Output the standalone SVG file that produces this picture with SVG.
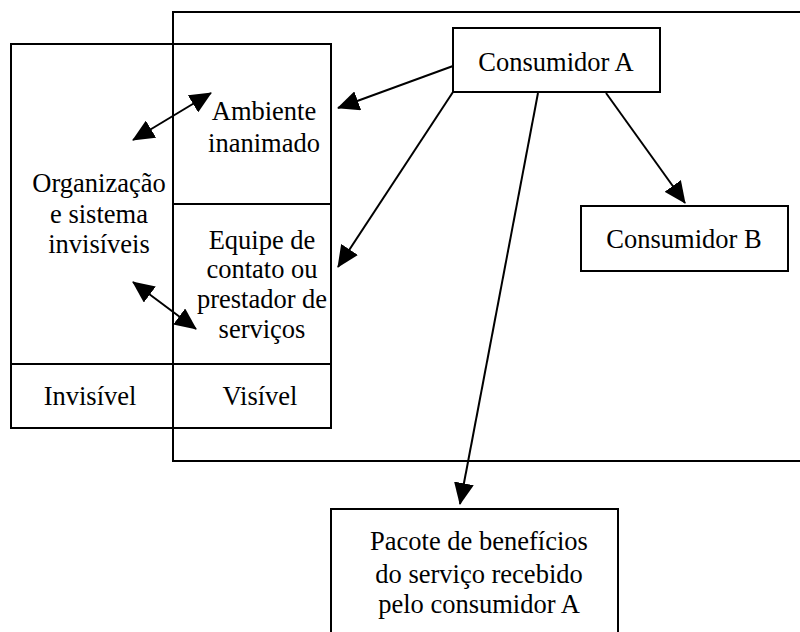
<svg xmlns="http://www.w3.org/2000/svg" width="800" height="632" viewBox="0 0 800 632">
<style>
.box{fill:none;stroke:#000;stroke-width:2}
.ln{fill:none;stroke:#000;stroke-width:2}
.t{font-family:"Liberation Serif","Times New Roman",serif;font-size:26.5px;fill:#000;text-anchor:middle}
</style>
<defs>
<marker id="ah" viewBox="0 0 22 20" refX="21" refY="10" markerWidth="22" markerHeight="20" markerUnits="userSpaceOnUse" orient="auto-start-reverse">
<path d="M0,0 L22,10 L0,20 Z" fill="#000"/>
</marker>
</defs>
<rect width="800" height="632" fill="#fff"/>
<g id="outer">
<rect class="box" x="173" y="12" width="640" height="449"/>
</g>
<g id="left-panel">
<rect class="box" x="11" y="44" width="320" height="384"/>
<line class="ln" x1="173" y1="204" x2="331" y2="204"/>
<line class="ln" x1="11" y1="364" x2="331" y2="364"/>
</g>
<g id="organizacao">
<text class="t" x="99" y="192">Organização</text>
<text class="t" x="99" y="223">e sistema</text>
<text class="t" x="99" y="253">invisíveis</text>
</g>
<g id="ambiente">
<text class="t" x="264" y="120">Ambiente</text>
<text class="t" x="264" y="152">inanimado</text>
</g>
<g id="equipe">
<text class="t" x="262" y="249">Equipe de</text>
<text class="t" x="262" y="278">contato ou</text>
<text class="t" x="262" y="308">prestador de</text>
<text class="t" x="262" y="338">serviços</text>
</g>
<g id="invisivel">
<text class="t" x="90" y="405">Invisível</text>
</g>
<g id="visivel">
<text class="t" x="260" y="405">Visível</text>
</g>
<g id="consumidor-a">
<rect class="box" x="453" y="28" width="207" height="64"/>
<text class="t" x="556" y="71">Consumidor A</text>
</g>
<g id="consumidor-b">
<rect class="box" x="581" y="206" width="207" height="65"/>
<text class="t" x="684" y="248">Consumidor B</text>
</g>
<g id="pacote">
<rect class="box" x="331" y="509" width="287" height="140"/>
<text class="t" x="479" y="550">Pacote de benefícios</text>
<text class="t" x="479" y="583">do serviço recebido</text>
<text class="t" x="479" y="613">pelo consumidor A</text>
</g>
<g id="connectors">
<line class="ln" x1="453" y1="66" x2="338" y2="108" marker-end="url(#ah)"/>
<line class="ln" x1="453" y1="92" x2="338" y2="267" marker-end="url(#ah)"/>
<line class="ln" x1="538" y1="93" x2="460" y2="504" marker-end="url(#ah)"/>
<line class="ln" x1="606" y1="93" x2="685" y2="203" marker-end="url(#ah)"/>
<line class="ln" x1="133" y1="140" x2="211" y2="93" marker-start="url(#ah)" marker-end="url(#ah)"/>
<line class="ln" x1="133" y1="282" x2="196" y2="329" marker-start="url(#ah)" marker-end="url(#ah)"/>
</g>
</svg>
